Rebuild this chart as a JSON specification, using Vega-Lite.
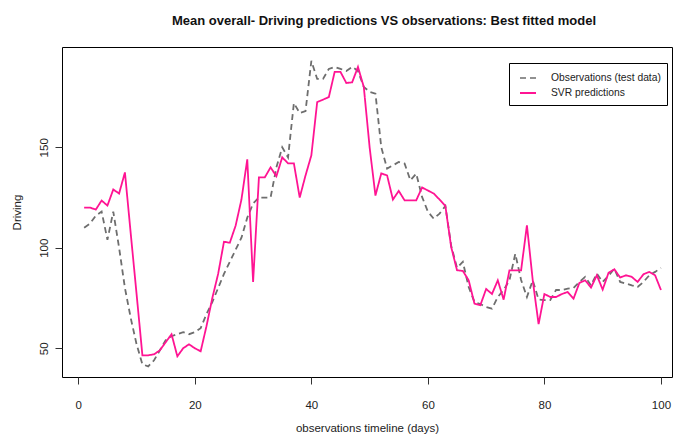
{
  "$schema": "https://vega.github.io/schema/vega-lite/v6.json",
  "width": 610,
  "height": 330,
  "autosize": {"type": "none"},
  "padding": {"left": 62, "top": 47, "right": 14, "bottom": 67},
  "background": "white",
  "title": {
    "text": "Mean overall- Driving predictions VS observations: Best fitted model",
    "font": "Liberation Sans",
    "fontSize": 13,
    "fontWeight": "bold",
    "color": "#111",
    "anchor": "middle",
    "dx": 17,
    "offset": 19
  },
  "config": {
    "font": "Liberation Sans",
    "view": {"stroke": "#000", "strokeWidth": 1}
  },
  "data": {
    "values": [
      {"day":1,"obs":110,"svr":120},{"day":2,"obs":112,"svr":120},{"day":3,"obs":116,"svr":119},{"day":4,"obs":118,"svr":123.5},{"day":5,"obs":104,"svr":121},
      {"day":6,"obs":118,"svr":129},{"day":7,"obs":100,"svr":127},{"day":8,"obs":80,"svr":137.5},{"day":9,"obs":65,"svr":107},{"day":10,"obs":52,"svr":77},
      {"day":11,"obs":42,"svr":46.5},{"day":12,"obs":41,"svr":46.5},{"day":13,"obs":44,"svr":47},{"day":14,"obs":49,"svr":49},{"day":15,"obs":54,"svr":53},
      {"day":16,"obs":56,"svr":57},{"day":17,"obs":57,"svr":46},{"day":18,"obs":58,"svr":50},{"day":19,"obs":57,"svr":52},{"day":20,"obs":58,"svr":50},
      {"day":21,"obs":60,"svr":48.5},{"day":22,"obs":67,"svr":61},{"day":23,"obs":73,"svr":75},{"day":24,"obs":80,"svr":87},{"day":25,"obs":87,"svr":103},
      {"day":26,"obs":93,"svr":102.5},{"day":27,"obs":99,"svr":111},{"day":28,"obs":105,"svr":124},{"day":29,"obs":115,"svr":144},{"day":30,"obs":122,"svr":83},
      {"day":31,"obs":125,"svr":135},{"day":32,"obs":125,"svr":135},{"day":33,"obs":125,"svr":140},{"day":34,"obs":140,"svr":135.6},{"day":35,"obs":150,"svr":145},
      {"day":36,"obs":145,"svr":142},{"day":37,"obs":172,"svr":142},{"day":38,"obs":167,"svr":125},{"day":39,"obs":168,"svr":136},{"day":40,"obs":193,"svr":146},
      {"day":41,"obs":184,"svr":172.5},{"day":42,"obs":184,"svr":173.7},{"day":43,"obs":189,"svr":175},{"day":44,"obs":190,"svr":187.5},{"day":45,"obs":189,"svr":187.5},
      {"day":46,"obs":188,"svr":182},{"day":47,"obs":190,"svr":182.3},{"day":48,"obs":188,"svr":190},{"day":49,"obs":180,"svr":180},{"day":50,"obs":177.6,"svr":150},
      {"day":51,"obs":176.7,"svr":126},{"day":52,"obs":150,"svr":137},{"day":53,"obs":139.4,"svr":136},{"day":54,"obs":141,"svr":124},{"day":55,"obs":142.7,"svr":128.3},
      {"day":56,"obs":141.9,"svr":123.6},{"day":57,"obs":133.6,"svr":123.6},{"day":58,"obs":136.9,"svr":123.6},{"day":59,"obs":125.3,"svr":130},{"day":60,"obs":118,"svr":128.5},
      {"day":61,"obs":114.5,"svr":127},{"day":62,"obs":117,"svr":124},{"day":63,"obs":120.8,"svr":120.8},{"day":64,"obs":101,"svr":100.4},{"day":65,"obs":90,"svr":88.8},
      {"day":66,"obs":93,"svr":88.5},{"day":67,"obs":80.5,"svr":83.8},{"day":68,"obs":73,"svr":72.2},{"day":69,"obs":72,"svr":71.4},{"day":70,"obs":70.5,"svr":79.5},
      {"day":71,"obs":69.7,"svr":77},{"day":72,"obs":75.5,"svr":83.8},{"day":73,"obs":79,"svr":74.2},{"day":74,"obs":83.8,"svr":88.8},{"day":75,"obs":97,"svr":88.8},
      {"day":76,"obs":84,"svr":88.8},{"day":77,"obs":75.5,"svr":111.2},{"day":78,"obs":83.8,"svr":83.8},{"day":79,"obs":74.2,"svr":62},{"day":80,"obs":74,"svr":77},
      {"day":81,"obs":74,"svr":75.5},{"day":82,"obs":79,"svr":75.5},{"day":83,"obs":79,"svr":77},{"day":84,"obs":79.7,"svr":78},{"day":85,"obs":80,"svr":74.7},
      {"day":86,"obs":83,"svr":82.5},{"day":87,"obs":85.5,"svr":83.8},{"day":88,"obs":81.3,"svr":80.2},{"day":89,"obs":87.2,"svr":86.3},{"day":90,"obs":83,"svr":79.2},
      {"day":91,"obs":86,"svr":87.5},{"day":92,"obs":89.6,"svr":89.3},{"day":93,"obs":83,"svr":85.2},{"day":94,"obs":82.2,"svr":86.3},{"day":95,"obs":81.3,"svr":85.5},
      {"day":96,"obs":80.5,"svr":83},{"day":97,"obs":83,"svr":86.8},{"day":98,"obs":86.3,"svr":88},{"day":99,"obs":88,"svr":86.3},{"day":100,"obs":90,"svr":79}
    ]
  },
  "transform": [
    {"fold": ["obs", "svr"], "as": ["key", "value"]},
    {"lookup": "key", "from": {"data": {"values": [{"key": "obs", "series": "Observations (test data)"}, {"key": "svr", "series": "SVR predictions"}]}, "key": "key", "fields": ["series"]}}
  ],
  "mark": {"type": "line", "strokeWidth": 1.8},
  "encoding": {
    "x": {
      "field": "day", "type": "quantitative",
      "scale": {"domain": [-2.8, 101.9], "nice": false, "zero": false},
      "axis": {
        "values": [0, 20, 40, 60, 80, 100],
        "title": "observations timeline (days)",
        "domain": false, "grid": false,
        "tickColor": "#333", "tickSize": 7,
        "labelFontSize": 11.5, "labelColor": "#222", "labelPadding": 15,
        "titleFontSize": 11.5, "titleFontWeight": "normal", "titleColor": "#222", "titlePadding": 12
      }
    },
    "y": {
      "field": "value", "type": "quantitative",
      "scale": {"domain": [35.7, 199.9], "nice": false, "zero": false},
      "axis": {
        "values": [50, 100, 150],
        "title": "Driving",
        "domain": false, "grid": false,
        "tickColor": "#333", "tickSize": 7,
        "labelAngle": -90, "labelAlign": "center", "labelBaseline": "bottom",
        "labelFontSize": 11.5, "labelColor": "#222", "labelPadding": 6,
        "titleFontSize": 11.5, "titleFontWeight": "normal", "titleColor": "#222", "titlePadding": 16
      }
    },
    "color": {
      "field": "series", "type": "nominal",
      "scale": {"domain": ["Observations (test data)", "SVR predictions"], "range": ["#6e6e6e", "#ff1493"]},
      "legend": {
        "title": null,
        "orient": "none", "legendX": 447, "legendY": 16,
        "direction": "vertical",
        "strokeColor": "#000", "fillColor": "#fff",
        "padding": 6, "cornerRadius": 0,
        "symbolType": "stroke", "symbolSize": 256, "symbolStrokeWidth": 1.8, "symbolOffset": 4,
        "labelFontSize": 10.3, "labelColor": "#222", "labelOffset": 14, "rowPadding": 0
      }
    },
    "strokeDash": {
      "field": "series", "type": "nominal",
      "scale": {"domain": ["Observations (test data)", "SVR predictions"], "range": [[6, 4], [1, 0]]},
      "legend": {
        "title": null,
        "orient": "none", "legendX": 447, "legendY": 16,
        "direction": "vertical",
        "strokeColor": "#000", "fillColor": "#fff",
        "padding": 6, "cornerRadius": 0,
        "symbolType": "stroke", "symbolSize": 256, "symbolStrokeWidth": 1.8, "symbolOffset": 4,
        "labelFontSize": 10.3, "labelColor": "#222", "labelOffset": 14, "rowPadding": 0
      }
    },
    "strokeWidth": {
      "field": "series", "type": "nominal",
      "scale": {"domain": ["Observations (test data)", "SVR predictions"], "range": [1.5, 2]},
      "legend": null
    }
  }
}
